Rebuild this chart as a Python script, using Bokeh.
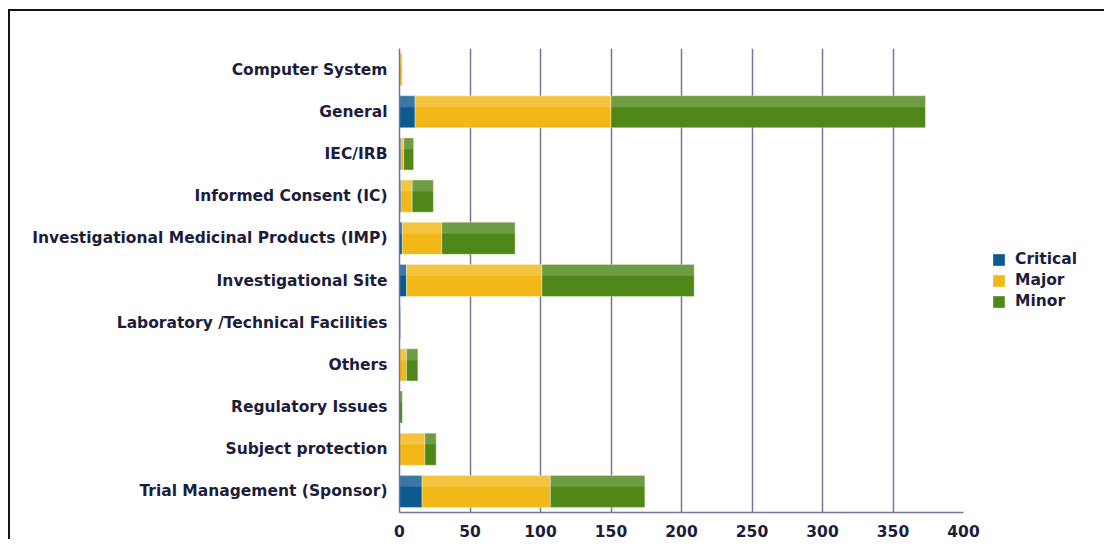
from bokeh.plotting import figure
from bokeh.models import ColumnDataSource, FactorRange, Legend, LegendItem, SingleIntervalTicker
from bokeh.transform import dodge
from bokeh.embed import file_html
from bokeh.resources import INLINE

# Findings per inspection area, split by grading
categories = [
    "Computer System",
    "General",
    "IEC/IRB",
    "Informed Consent (IC)",
    "Investigational Medicinal Products (IMP)",
    "Investigational Site",
    "Laboratory /Technical Facilities",
    "Others",
    "Regulatory Issues",
    "Subject protection",
    "Trial Management (Sponsor)",
]
critical = [0, 11, 1, 1, 2, 5, 1, 0, 0, 0, 16]
major = [2, 139, 2, 8, 28, 96, 0, 5, 0, 18, 91]
minor = [0, 223, 7, 15, 52, 108, 0, 8, 2, 8, 67]
series = ["Critical", "Major", "Minor"]
colors = ["#0b5b91", "#f2b817", "#4f8719"]

totals = [c + ma + mi for c, ma, mi in zip(critical, major, minor)]

source = ColumnDataSource(dict(
    cat=categories, Critical=critical, Major=major, Minor=minor, total=totals,
))

TEXT = "#1d1d3b"
GRID = "#76769a"
FONT = "DejaVu Sans"

p = figure(
    y_range=FactorRange(*reversed(categories)),
    x_range=(0, 400),
    frame_width=564, frame_height=464,
    output_backend="svg", toolbar_location=None,
    min_border_left=389, min_border_right=10,
    min_border_top=37, min_border_bottom=10,
    background_fill_color="white", border_fill_color="white",
)
p.styles = {
    "margin-left": "8px", "margin-top": "9px",
    "border-top": "2px solid #151515", "border-left": "2px solid #151515",
}
p.outline_line_color = None

renderers = p.hbar_stack(
    series, y="cat", height=0.76, color=colors, source=source,
    line_color="white", line_alpha=0.35, line_width=1,
)

# soft highlight on the upper part of every bar
p.hbar(
    y=dodge("cat", 0.245, range=p.y_range), left=0, right="total",
    height=0.27, source=source, fill_color="white", fill_alpha=0.18,
    line_color=None,
)

p.xgrid.grid_line_color = GRID
p.xgrid.grid_line_width = 1.5
p.ygrid.grid_line_color = None
p.xaxis.ticker = SingleIntervalTicker(interval=50)

for ax in (p.xaxis[0], p.yaxis[0]):
    ax.axis_line_color = GRID
    ax.axis_line_width = 1.5
    ax.major_tick_line_color = None
    ax.minor_tick_line_color = None
    ax.major_label_text_color = TEXT
    ax.major_label_text_font = FONT
    ax.major_label_text_font_size = "15.5px"
    ax.major_label_text_font_style = "bold"
p.xaxis.major_label_standoff = 6
p.yaxis.major_label_standoff = 6

legend = Legend(
    items=[LegendItem(label=s, renderers=[r]) for s, r in zip(series, renderers)],
    location="center_left",
    glyph_width=15, glyph_height=15, label_height=15, spacing=3,
    label_standoff=9, padding=0, margin=28,
    border_line_color=None, background_fill_alpha=0,
    label_text_font=FONT, label_text_font_size="15.5px", label_text_color=TEXT,
    label_text_font_style="bold",
)
p.add_layout(legend, "right")

open("out.html", "w").write(file_html(p, INLINE))
